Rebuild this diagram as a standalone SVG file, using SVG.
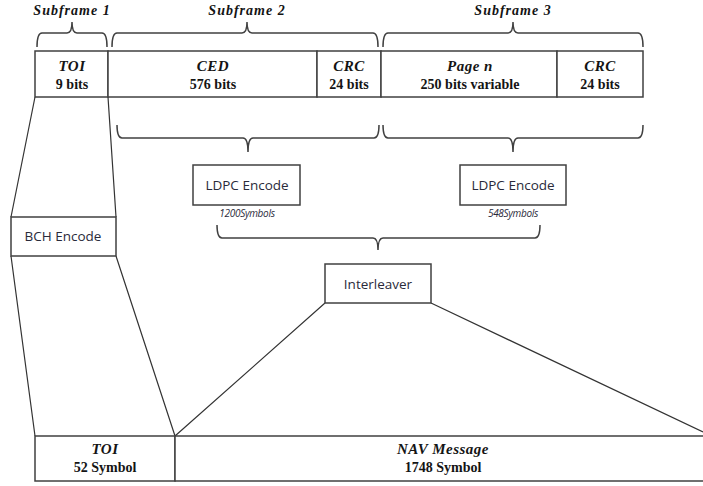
<svg xmlns="http://www.w3.org/2000/svg" width="703" height="486" viewBox="0 0 703 486">
<style>
.box{fill:#fff;stroke:#404040;stroke-width:1.5}
.ln{fill:none;stroke:#333;stroke-width:1.2}
.br{fill:none;stroke:#404040;stroke-width:1.5}
.hd{font-family:"Liberation Serif",serif;font-weight:bold;font-style:italic;font-size:15px;fill:#141414;text-anchor:middle;letter-spacing:0.5px}
.sf{font-family:"Liberation Serif",serif;font-weight:bold;font-style:italic;font-size:14px;fill:#141414;text-anchor:middle;letter-spacing:1px}
.vl{font-family:"Liberation Serif",serif;font-weight:bold;font-size:14px;fill:#141414;text-anchor:middle}
.bx{font-family:"Open Sans","Liberation Sans",sans-serif;font-size:13.5px;fill:#2a2a3a;text-anchor:middle}
.sm{font-family:"Open Sans","Liberation Sans",sans-serif;font-style:italic;font-size:10px;fill:#2a2a3a;text-anchor:middle;letter-spacing:-0.3px}
</style>
<rect width="703" height="486" fill="#fff"/>
<g id="connectors">
<path class="ln" d="M35,97 L11,217 M108,97 L116,217 M11,256 L35,436 M116,256 L175,436 M325,303 L175,436 M431,303 L703,432"/>
<path class="br" d="M37,47 Q37,33 42,33 L67,33 Q72,33 72,22 Q72,33 77,33 L102,33 Q107,33 107,47"/>
<path class="br" d="M112,47 Q112,33 117,33 L242,33 Q247,33 247,22 Q247,33 252,33 L373,33 Q378,33 378,47"/>
<path class="br" d="M383,47 Q383,33 388,33 L508,33 Q513,33 513,22 Q513,33 518,33 L638,33 Q643,33 643,47"/>
<path class="br" d="M117,125 Q117,138 122,138 L243,138 Q248,138 248,152 Q248,138 253,138 L374,138 Q379,138 379,125"/>
<path class="br" d="M383,125 Q383,138 388,138 L508,138 Q513,138 513,152 Q513,138 518,138 L638,138 Q643,138 643,125"/>
<path class="br" d="M217,225 Q217,238 222,238 L373,238 Q378,238 378,250 Q378,238 383,238 L535,238 Q540,238 540,225"/>
</g>
<g id="labels-subframe">
<text class="sf" x="72" y="15">Subframe 1</text>
<text class="sf" x="247" y="15">Subframe 2</text>
<text class="sf" x="513" y="15">Subframe 3</text>
</g>
<g id="toi">
<rect class="box" x="35" y="51" width="73" height="46"/>
<text class="hd" x="72" y="71">TOI</text>
<text class="vl" x="72" y="89">9 bits</text>
</g>
<g id="ced">
<rect class="box" x="108" y="51" width="209" height="46"/>
<text class="hd" x="213" y="71">CED</text>
<text class="vl" x="213" y="89">576 bits</text>
</g>
<g id="crc1">
<rect class="box" x="317" y="51" width="64" height="46"/>
<text class="hd" x="349" y="71">CRC</text>
<text class="vl" x="349" y="89">24 bits</text>
</g>
<g id="page">
<rect class="box" x="381" y="51" width="176" height="46"/>
<text class="hd" x="470" y="71">Page n</text>
<text class="vl" x="470" y="89">250 bits variable</text>
</g>
<g id="crc2">
<rect class="box" x="557" y="51" width="86" height="46"/>
<text class="hd" x="600" y="71">CRC</text>
<text class="vl" x="600" y="89">24 bits</text>
</g>
<g id="ldpc1">
<rect class="box" x="193" y="165" width="107" height="40"/>
<text class="bx" x="247" y="190">LDPC Encode</text>
<text class="sm" x="247" y="217">1200Symbols</text>
</g>
<g id="ldpc2">
<rect class="box" x="460" y="165" width="106" height="40"/>
<text class="bx" x="513" y="190">LDPC Encode</text>
<text class="sm" x="513" y="217">548Symbols</text>
</g>
<g id="bch">
<rect class="box" x="11" y="217" width="105" height="39"/>
<text class="bx" x="63" y="241">BCH Encode</text>
</g>
<g id="interleaver">
<rect class="box" x="325" y="264" width="106" height="39"/>
<text class="bx" x="378" y="289">Interleaver</text>
</g>
<g id="toi-symbol">
<rect class="box" x="35" y="436" width="140" height="45"/>
<text class="hd" x="105" y="454">TOI</text>
<text class="vl" x="105" y="472">52 Symbol</text>
</g>
<g id="nav">
<path class="box" d="M175,436 L705,436 M175,436 L175,481 L705,481"/>
<text class="hd" x="443" y="454" letter-spacing="1.5">NAV Message</text>
<text class="vl" x="443" y="472">1748 Symbol</text>
</g>
</svg>
